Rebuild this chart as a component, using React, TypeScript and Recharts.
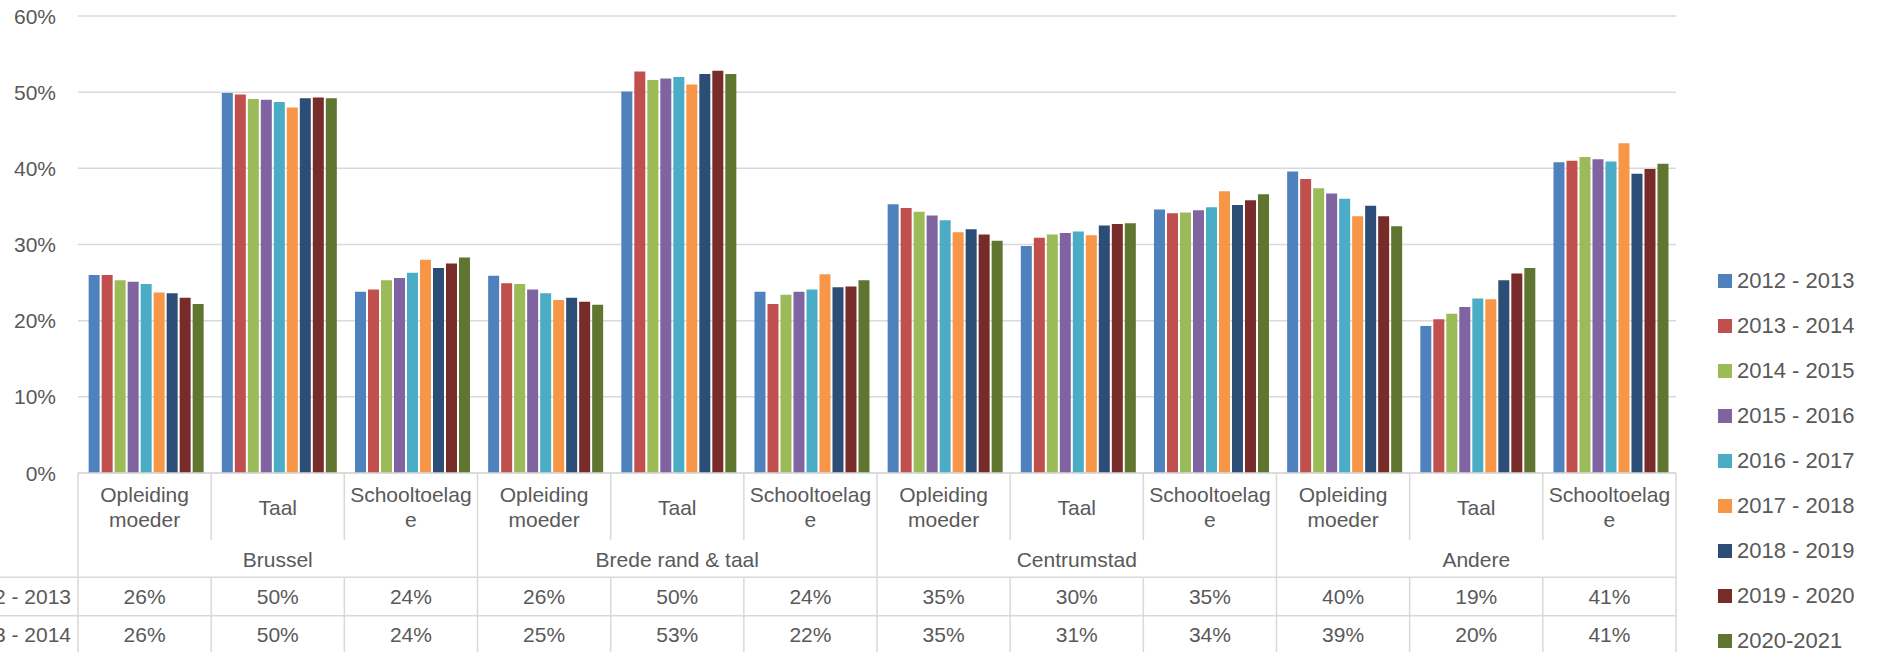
import React from 'react';
import { BarChart, Bar, XAxis, YAxis, CartesianGrid, Legend } from 'recharts';

// regions and indicators (x axis is a two-level category axis)
const groups = ['Brussel', 'Brede rand & taal', 'Centrumstad', 'Andere'];
const indicators = ['Opleiding moeder', 'Taal', 'Schooltoelage'];
// how Excel wrapped the indicator labels
const indicatorLines = [['Opleiding', 'moeder'], ['Taal'], ['Schooltoelag', 'e']];

const seriesNames = [
  '2012 - 2013',
  '2013 - 2014',
  '2014 - 2015',
  '2015 - 2016',
  '2016 - 2017',
  '2017 - 2018',
  '2018 - 2019',
  '2019 - 2020',
  '2020-2021',
];

// percentages per school year, order: group x indicator
const y2012 = [26.0, 49.9, 23.8, 25.9, 50.1, 23.8, 35.3, 29.8, 34.6, 39.6, 19.3, 40.8];
const y2013 = [26.0, 49.7, 24.1, 24.9, 52.7, 22.2, 34.8, 30.9, 34.1, 38.6, 20.2, 41.0];
const y2014 = [25.3, 49.1, 25.3, 24.8, 51.6, 23.4, 34.3, 31.3, 34.2, 37.4, 20.9, 41.5];
const y2015 = [25.1, 49.0, 25.6, 24.1, 51.8, 23.8, 33.8, 31.5, 34.5, 36.7, 21.8, 41.2];
const y2016 = [24.8, 48.7, 26.3, 23.6, 52.0, 24.1, 33.2, 31.7, 34.9, 36.0, 22.9, 40.9];
const y2017 = [23.7, 48.0, 28.0, 22.7, 51.0, 26.1, 31.6, 31.2, 37.0, 33.7, 22.8, 43.3];
const y2018 = [23.6, 49.2, 26.9, 23.0, 52.4, 24.4, 32.0, 32.5, 35.2, 35.1, 25.3, 39.3];
const y2019 = [23.0, 49.3, 27.5, 22.5, 52.8, 24.5, 31.3, 32.7, 35.8, 33.7, 26.2, 39.9];
const y2020 = [22.2, 49.2, 28.3, 22.1, 52.4, 25.3, 30.5, 32.8, 36.6, 32.4, 26.9, 40.6];

const seriesValues = [y2012, y2013, y2014, y2015, y2016, y2017, y2018, y2019, y2020];

const colors = [
  '#4F81BD',
  '#C0504D',
  '#9BBB59',
  '#8064A2',
  '#4BACC6',
  '#F79646',
  '#2C4D75',
  '#772C2A',
  '#5F7530',
];

const yTicks = [0, 10, 20, 30, 40, 50, 60];

// only the first two rows of the data table fit in the picture
const tableRows = 2;

// build the row objects recharts wants
const data = groups.flatMap((g, gi) =>
  indicators.map((ind, ii) => {
    const idx = gi * 3 + ii;
    const row: any = { key: `${g}|${ind}` };
    seriesNames.forEach((s, si) => {
      row[s] = seriesValues[si][idx];
    });
    return row;
  })
);

// layout
const W = 1877;
const H = 652;
const PLOT_LEFT = 78;
const PLOT_RIGHT = 1676;
const PLOT_TOP = 16;
const AXIS_Y = 473;
const BAND = (PLOT_RIGHT - PLOT_LEFT) / data.length;
const CAT_ROW_BOTTOM = 540;
const GROUP_LABEL_Y = 559;
const ROW_TOP = 577.3;
const ROW_H = 38.4;

const TEXT = '#595959';
const LINE = '#D9D9D9';
const FONT = '"Liberation Sans", Arial, sans-serif';
const FS = 21;

const YTick = (props: any) => {
  const { y, payload } = props;
  return (
    <text x={56} y={y} textAnchor="end" dominantBaseline="central" fontSize={FS} fill={TEXT} fontFamily={FONT}>
      {`${payload.value}%`}
    </text>
  );
};

// x tick draws the indicator label plus its column of the data table
const TableTick = (props: any) => {
  const { x, payload } = props;
  const i = payload.index;
  const left = x - BAND / 2;
  const right = x + BAND / 2;
  const lines = indicatorLines[i % 3];
  const firstInGroup = i % 3 === 0;
  const labelYs = lines.length === 2 ? [494, 519] : [507];

  return (
    <g>
      {lines.map((t, li) => (
        <text
          key={li}
          x={x}
          y={labelYs[li]}
          textAnchor="middle"
          dominantBaseline="central"
          fontSize={FS}
          fill={TEXT}
          fontFamily={FONT}
        >
          {t}
        </text>
      ))}
      {i % 3 === 1 && (
        <text x={x} y={GROUP_LABEL_Y} textAnchor="middle" dominantBaseline="central" fontSize={FS} fill={TEXT} fontFamily={FONT}>
          {groups[Math.floor(i / 3)]}
        </text>
      )}
      {firstInGroup ? (
        <line x1={left} x2={left} y1={AXIS_Y} y2={H} stroke={LINE} strokeWidth={1.5} />
      ) : (
        <>
          <line x1={left} x2={left} y1={AXIS_Y} y2={CAT_ROW_BOTTOM} stroke={LINE} strokeWidth={1.5} />
          <line x1={left} x2={left} y1={ROW_TOP} y2={H} stroke={LINE} strokeWidth={1.5} />
        </>
      )}
      {i === data.length - 1 && <line x1={right} x2={right} y1={AXIS_Y} y2={H} stroke={LINE} strokeWidth={1.5} />}
      {seriesNames.slice(0, tableRows).map((s, si) => {
        const top = ROW_TOP + si * ROW_H;
        return (
          <g key={s}>
            <line x1={i === 0 ? 0 : left} x2={right} y1={top} y2={top} stroke={LINE} strokeWidth={1.5} />
            {i === 0 && (
              <text x={71} y={top + ROW_H / 2} textAnchor="end" dominantBaseline="central" fontSize={FS} fill={TEXT} fontFamily={FONT}>
                {s}
              </text>
            )}
            <text x={x} y={top + ROW_H / 2} textAnchor="middle" dominantBaseline="central" fontSize={FS} fill={TEXT} fontFamily={FONT}>
              {`${Math.round(seriesValues[si][i])}%`}
            </text>
          </g>
        );
      })}
    </g>
  );
};

const LegendList = () => (
  <div style={{ fontFamily: FONT, fontSize: 22, color: TEXT }}>
    {seriesNames.map((s, si) => (
      <div key={s} style={{ height: 45, display: 'flex', alignItems: 'center', whiteSpace: 'nowrap' }}>
        <span style={{ width: 14, height: 14, background: colors[si], display: 'inline-block', marginRight: 5 }} />
        <span>{s}</span>
      </div>
    ))}
  </div>
);

export default function App() {
  return (
    <div style={{ position: 'absolute', left: 0, top: 0, width: W, height: H, background: '#fff', overflow: 'hidden' }}>
      <BarChart
        width={W}
        height={H}
        data={data}
        margin={{ top: PLOT_TOP, right: W - PLOT_RIGHT, bottom: 0, left: 0 }}
        barCategoryGap="8%"
        barGap={2}
      >
        <CartesianGrid vertical={false} stroke={LINE} strokeWidth={1.5} />
        <YAxis
          width={PLOT_LEFT}
          domain={[0, 60]}
          ticks={yTicks}
          axisLine={false}
          tickLine={false}
          tick={<YTick />}
          interval={0}
        />
        <XAxis
          dataKey="key"
          height={H - AXIS_Y}
          axisLine={{ stroke: LINE, strokeWidth: 1.5 }}
          tickLine={false}
          interval={0}
          tick={<TableTick />}
        />
        <Legend
          layout="horizontal"
          verticalAlign="middle"
          align="center"
          wrapperStyle={{ left: 1718, top: 258, width: 159, height: 'auto' }}
          content={<LegendList />}
        />
        {seriesNames.map((s, si) => (
          <Bar key={s} dataKey={s} fill={colors[si]} isAnimationActive={false} />
        ))}
      </BarChart>
    </div>
  );
}
